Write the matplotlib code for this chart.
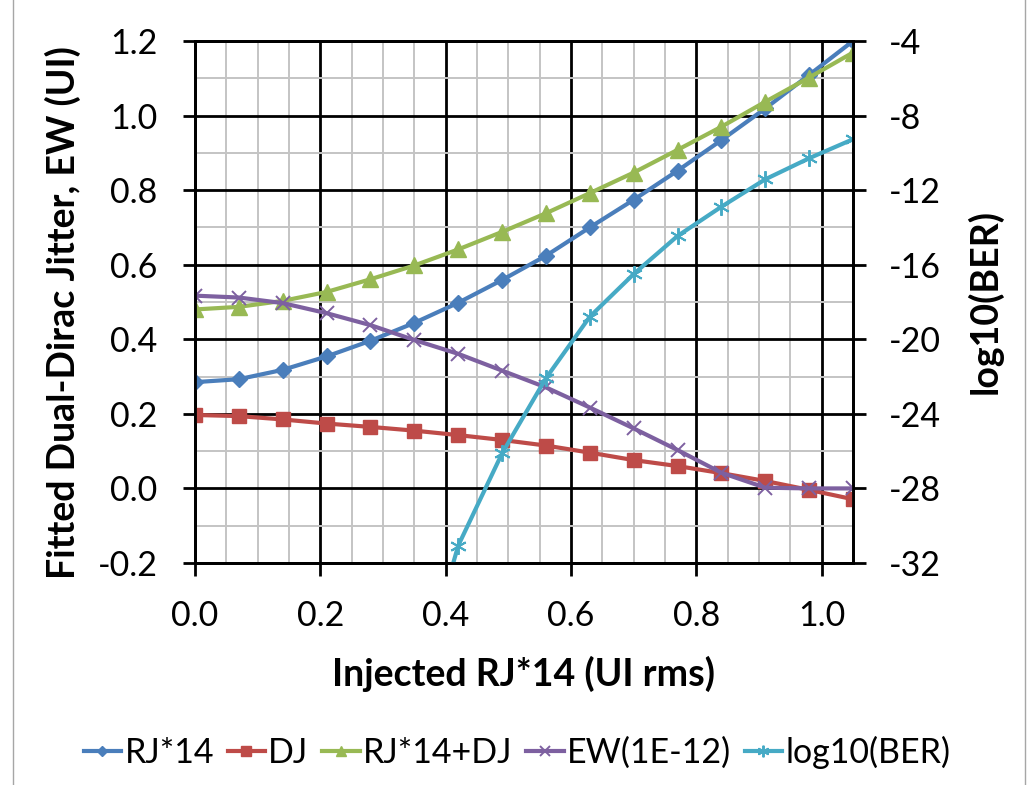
import numpy as np
import matplotlib.pyplot as plt
from matplotlib.patches import Rectangle
from matplotlib.ticker import MultipleLocator

plt.rcParams['font.family'] = ['Lato', 'DejaVu Sans']
plt.rcParams['axes.unicode_minus'] = False

# Injected RJ*14 (UI rms)
x = [0.0, 0.07, 0.14, 0.21, 0.28, 0.35, 0.42, 0.49,
     0.56, 0.63, 0.70, 0.77, 0.84, 0.91, 0.98, 1.05]

rj14 = [0.285, 0.293, 0.318, 0.354, 0.396, 0.444, 0.498, 0.559,
        0.624, 0.700, 0.774, 0.852, 0.934, 1.019, 1.109, 1.200]
dj = [0.197, 0.194, 0.185, 0.174, 0.165, 0.155, 0.143, 0.130,
      0.115, 0.096, 0.076, 0.060, 0.041, 0.020, -0.004, -0.029]
rj14_dj = [0.480, 0.487, 0.503, 0.527, 0.561, 0.598, 0.641, 0.688,
           0.738, 0.792, 0.847, 0.908, 0.970, 1.037, 1.102, 1.169]
ew = [0.517, 0.512, 0.497, 0.470, 0.438, 0.398, 0.361, 0.316,
      0.271, 0.217, 0.161, 0.103, 0.042, 0.002, 0.0, 0.0]

# log10(BER), right axis (points below -32 fall off the chart)
x_ber = [0.35, 0.42, 0.49, 0.56, 0.63, 0.70, 0.77, 0.84, 0.91, 0.98, 1.05]
log_ber = [-39.3, -31.07, -26.12, -22.09, -18.79, -16.50, -14.46,
           -12.89, -11.42, -10.29, -9.27]

fig = plt.figure(figsize=(10.28, 7.85), dpi=100)
ax = fig.add_axes([195 / 1028, 1 - 563 / 785, 658 / 1028, 522 / 785])
ax2 = ax.twinx()

lw = 3.0
ax.plot(x, rj14, color='#4A7EBB', lw=lw, marker='D', ms=8, label='RJ*14', zorder=3)
ax.plot(x, dj, color='#BE4B48', lw=lw, marker='s', ms=10, label='DJ', zorder=3)
ax.plot(x, rj14_dj, color='#98B954', lw=lw, marker='^', ms=11, label='RJ*14+DJ', zorder=3)
ax.plot(x, ew, color='#7D60A0', lw=lw, marker='x', ms=10, mew=1.4,
        label='EW(1E-12)', zorder=3)
ax2.plot(x_ber, log_ber, color='#46AAC5', lw=lw, marker=(6, 2, 0), ms=12, mew=1.4,
         label='log10(BER)')

ax.set_xlim(0, 1.05)
ax.set_ylim(-0.2, 1.2)
ax2.set_ylim(-32, -4)

ax.xaxis.set_major_locator(MultipleLocator(0.2))
ax.xaxis.set_minor_locator(MultipleLocator(0.05))
ax.yaxis.set_major_locator(MultipleLocator(0.2))
ax.yaxis.set_minor_locator(MultipleLocator(0.1))
ax2.yaxis.set_major_locator(MultipleLocator(4))

ax.grid(True, which='minor', color='#C4C4C4', lw=1.4, zorder=0)
ax.grid(True, which='major', color='black', lw=2.0, zorder=1)
ax.set_axisbelow(True)

ax.tick_params(which='major', direction='out', length=9, width=2, labelsize=24.5, pad=18)
ax.tick_params(which='minor', length=0)
ax2.tick_params(direction='out', length=9, width=2, labelsize=24.5, pad=17)
ax.set_xticklabels([f'{v:.1f}' for v in ax.get_xticks()])
ax.set_yticklabels([f'{v:.1f}' for v in ax.get_yticks()])

for a in (ax, ax2):
    for s in a.spines.values():
        s.set_linewidth(2)
        s.set_color('black')

ax.set_xlabel('Injected RJ*14 (UI rms)', fontsize=27, fontweight='bold')
ax.set_ylabel('Fitted Dual-Dirac Jitter, EW (UI)', fontsize=27, fontweight='bold')
ax2.set_ylabel('log10(BER)', fontsize=27, fontweight='bold')
ax.xaxis.set_label_coords(0.5, -0.178)
ax.yaxis.set_label_coords(-0.174, 0.48)
ax2.yaxis.set_label_coords(1.172, 0.5)

h1, l1 = ax.get_legend_handles_labels()
h2, l2 = ax2.get_legend_handles_labels()
fig.legend(h1 + h2, l1 + l2, loc='center', bbox_to_anchor=(0.503, 0.042), ncol=5,
           frameon=False, fontsize=24.5, handlelength=1.1, handletextpad=0.1,
           columnspacing=0.4, markerscale=0.7)

# thin chart-area border
fig.add_artist(Rectangle((13 / 1028, -0.1), (1025 - 13) / 1028, 1.2,
                         transform=fig.transFigure, fill=False,
                         edgecolor='#A6A6A6', lw=1))

fig.savefig('out.png', dpi=100)
